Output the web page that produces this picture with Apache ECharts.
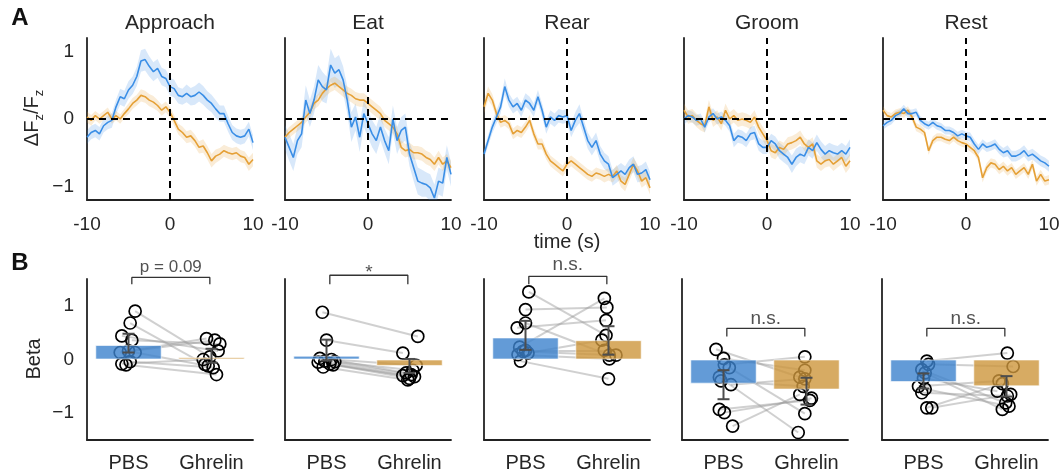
<!DOCTYPE html>
<html><head><meta charset="utf-8">
<script src="https://cdn.jsdelivr.net/npm/echarts@6/dist/echarts.min.js"></script>
<style>html,body{margin:0;padding:0;background:#fff}#c{width:1064px;height:475px}</style>
</head><body><div id="c"></div>
<script>
// ---------------- DATA ----------------
const behaviors = ['Approach', 'Eat', 'Rear', 'Groom', 'Rest'];
const groups = ['PBS', 'Ghrelin'];
const timeSec = [-10,-9.5,-9,-8.5,-8,-7.5,-7,-6.5,-6,-5.5,-5,-4.5,-4,-3.5,-3,-2.5,-2,-1.5,-1,-0.5,0,0.5,1,1.5,2,2.5,3,3.5,4,4.5,5,5.5,6,6.5,7,7.5,8,8.5,9,9.5,10];
const timeTicks = [-10, 0, 10];

// mean dF/F traces (blue = PBS, orange = Ghrelin)
const approachPBS = [-0.27,-0.2,-0.17,-0.22,-0.1,-0.05,-0.02,0.18,0.33,0.3,0.43,0.5,0.63,0.86,0.88,0.78,0.7,0.75,0.63,0.6,0.48,0.45,0.35,0.33,0.38,0.33,0.35,0.4,0.35,0.28,0.23,0.15,0.08,0.08,-0.07,-0.2,-0.25,-0.27,-0.25,-0.15,-0.35];
const approachGhr = [0.03,-0.02,0.05,0,0.05,0.1,0,0.05,0,0.08,0.15,0.23,0.28,0.35,0.33,0.28,0.25,0.2,0.13,0.18,0.1,-0.02,-0.15,-0.2,-0.27,-0.25,-0.32,-0.42,-0.4,-0.5,-0.62,-0.55,-0.52,-0.47,-0.5,-0.52,-0.5,-0.55,-0.57,-0.67,-0.6];
const eatPBS = [-0.27,-0.42,-0.57,-0.32,-0.22,0.28,0.08,0.28,0.58,0.48,0.43,0.8,0.68,0.73,0.58,0.28,-0.12,0.03,-0.27,0.08,-0.07,-0.22,-0.32,-0.12,-0.32,-0.47,0,-0.32,-0.17,-0.12,-0.52,-0.72,-0.92,-0.95,-0.97,-1.02,-1.17,-0.92,-0.95,-0.57,-0.82];
const eatGhr = [-0.27,-0.2,-0.15,-0.1,-0.05,0.03,0.1,0.23,0.28,0.38,0.45,0.5,0.53,0.48,0.43,0.38,0.35,0.3,0.28,0.28,0.23,0.18,0.13,0.08,-0.02,-0.07,-0.12,-0.22,-0.42,-0.47,-0.45,-0.5,-0.5,-0.52,-0.57,-0.6,-0.67,-0.57,-0.67,-0.62,-0.72];
const rearPBS = [-0.52,-0.32,-0.12,0.03,0.18,0.48,0.28,0.18,0.23,0.13,0.28,0.23,0.13,0.33,0.13,-0.12,0.03,-0.02,0.05,0.03,0.05,-0.17,-0.02,0.08,-0.12,-0.32,-0.42,-0.32,-0.52,-0.62,-0.67,-0.87,-0.82,-0.77,-0.82,-0.72,-0.67,-0.82,-0.8,-0.75,-0.9];
const rearGhr = [0.18,0.38,0.28,0.08,-0.05,-0.02,-0.07,-0.22,-0.17,-0.2,-0.12,-0.02,-0.22,-0.37,-0.37,-0.52,-0.62,-0.67,-0.72,-0.77,-0.67,-0.62,-0.67,-0.72,-0.77,-0.82,-0.85,-0.8,-0.82,-0.85,-0.82,-0.85,-0.77,-0.92,-0.97,-0.82,-0.67,-0.77,-0.92,-0.87,-1.02];
const groomPBS = [0,0.05,0.03,-0.02,0,-0.12,0.03,0.08,0,0.03,-0.02,-0.1,-0.32,-0.25,-0.27,-0.32,-0.22,-0.2,-0.37,-0.42,-0.42,-0.32,-0.37,-0.47,-0.52,-0.57,-0.67,-0.57,-0.52,-0.55,-0.42,-0.47,-0.35,-0.45,-0.52,-0.47,-0.5,-0.52,-0.47,-0.52,-0.42];
const groomGhr = [0.13,0.03,0.05,-0.02,-0.07,-0.1,0.18,-0.02,0.03,-0.07,0.13,0,0.05,-0.02,0,-0.02,-0.05,0.03,-0.12,-0.22,-0.32,-0.47,-0.5,-0.42,-0.45,-0.37,-0.35,-0.32,-0.27,-0.37,-0.42,-0.37,-0.62,-0.67,-0.62,-0.6,-0.67,-0.62,-0.57,-0.7,-0.62];
const restPBS = [-0.1,-0.05,-0.02,0.05,0.08,0.15,0.08,0.08,0.1,-0.02,-0.07,-0.1,-0.05,-0.1,-0.12,-0.17,-0.17,-0.2,-0.25,-0.22,-0.25,-0.27,-0.37,-0.45,-0.37,-0.42,-0.4,-0.37,-0.45,-0.5,-0.47,-0.55,-0.55,-0.52,-0.47,-0.55,-0.52,-0.57,-0.62,-0.65,-0.7];
const restGhr = [0.13,0.05,0.03,0.08,0.1,0.08,0.13,0.03,-0.12,-0.15,-0.2,-0.47,-0.32,-0.27,-0.27,-0.3,-0.32,-0.27,-0.32,-0.35,-0.37,-0.42,-0.47,-0.57,-0.87,-0.72,-0.65,-0.67,-0.75,-0.7,-0.77,-0.72,-0.82,-0.77,-0.72,-0.82,-0.67,-0.92,-0.82,-0.92,-0.9];

// SEM of traces
const approachPBSsem = [0.1,0.1,0.1,0.1,0.1,0.1,0.11,0.11,0.12,0.12,0.13,0.13,0.14,0.16,0.16,0.15,0.14,0.14,0.13,0.13,0.13,0.13,0.12,0.12,0.13,0.13,0.14,0.14,0.14,0.13,0.13,0.13,0.12,0.12,0.12,0.11,0.11,0.11,0.11,0.11,0.11];
const approachGhrSem = [0.08,0.08,0.07,0.07,0.07,0.07,0.07,0.07,0.07,0.07,0.08,0.08,0.08,0.09,0.09,0.09,0.09,0.08,0.08,0.08,0.08,0.08,0.08,0.09,0.09,0.09,0.09,0.09,0.1,0.1,0.1,0.1,0.09,0.09,0.09,0.09,0.09,0.09,0.09,0.1,0.1];
const eatPBSsem = [0.18,0.2,0.2,0.2,0.2,0.22,0.2,0.2,0.22,0.22,0.2,0.24,0.22,0.22,0.2,0.2,0.22,0.2,0.22,0.2,0.2,0.2,0.2,0.2,0.18,0.2,0.2,0.2,0.2,0.2,0.18,0.2,0.2,0.2,0.18,0.2,0.2,0.2,0.2,0.18,0.18];
const eatGhrSem = [0.08,0.08,0.08,0.08,0.08,0.08,0.09,0.09,0.09,0.1,0.1,0.1,0.1,0.1,0.1,0.1,0.1,0.1,0.1,0.1,0.1,0.1,0.1,0.1,0.1,0.1,0.1,0.1,0.1,0.1,0.1,0.1,0.1,0.1,0.1,0.1,0.1,0.1,0.1,0.1,0.1];
const rearPBSsem = [0.07,0.08,0.09,0.1,0.1,0.12,0.1,0.1,0.1,0.1,0.1,0.1,0.1,0.1,0.1,0.1,0.1,0.1,0.1,0.1,0.1,0.1,0.12,0.14,0.12,0.12,0.12,0.12,0.12,0.12,0.12,0.12,0.12,0.12,0.12,0.12,0.12,0.12,0.12,0.12,0.12];
const rearGhrSem = [0.1,0.1,0.09,0.08,0.08,0.08,0.08,0.08,0.08,0.08,0.08,0.08,0.08,0.08,0.08,0.08,0.08,0.08,0.08,0.08,0.08,0.08,0.08,0.08,0.08,0.08,0.08,0.08,0.08,0.09,0.09,0.09,0.09,0.09,0.1,0.1,0.1,0.1,0.1,0.1,0.1];
const groomPBSsem = [0.08,0.08,0.08,0.08,0.08,0.08,0.08,0.08,0.08,0.08,0.08,0.09,0.1,0.1,0.1,0.1,0.1,0.1,0.1,0.1,0.1,0.1,0.11,0.12,0.12,0.12,0.13,0.13,0.12,0.12,0.12,0.12,0.12,0.12,0.12,0.12,0.12,0.12,0.12,0.12,0.12];
const groomGhrSem = [0.1,0.1,0.1,0.1,0.1,0.1,0.1,0.1,0.1,0.1,0.1,0.1,0.1,0.1,0.1,0.1,0.1,0.1,0.1,0.1,0.1,0.1,0.1,0.1,0.1,0.1,0.1,0.1,0.1,0.1,0.1,0.1,0.1,0.1,0.1,0.1,0.1,0.1,0.1,0.1,0.1];
const restPBSsem = [0.06,0.06,0.06,0.06,0.06,0.06,0.06,0.06,0.06,0.06,0.06,0.06,0.06,0.06,0.06,0.06,0.06,0.06,0.06,0.06,0.06,0.07,0.07,0.07,0.07,0.07,0.07,0.07,0.07,0.07,0.08,0.08,0.08,0.08,0.08,0.08,0.08,0.08,0.08,0.08,0.08];
const restGhrSem = [0.06,0.06,0.06,0.06,0.06,0.06,0.06,0.06,0.06,0.06,0.06,0.06,0.06,0.06,0.06,0.06,0.06,0.06,0.06,0.06,0.06,0.06,0.06,0.06,0.07,0.07,0.07,0.07,0.07,0.07,0.07,0.07,0.07,0.07,0.07,0.07,0.07,0.07,0.07,0.07,0.07];

// Beta per animal (paired: index k of PBS pairs with index k of Ghrelin)
const betaPBS_Approach = [0.9,0.68,0.44,0.36,0.16,0.13,0.13,-0.04,-0.08,-0.1];
const betaGhr_Approach = [0.05,-0.09,0.16,0.29,0.39,0.36,-0.12,-0.15,0.0,-0.28];
const betaPBS_Eat = [0.88,0.36,0.02,0.0,-0.03,-0.05,-0.08,-0.1,-0.14,-0.04];
const betaGhr_Eat = [0.43,0.12,-0.11,-0.25,-0.28,-0.3,-0.32,-0.35,-0.38,-0.2];
const betaPBS_Rear = [1.26,0.93,0.68,0.59,0.23,0.17,0.12,0.09,0.15,-0.03];
const betaGhr_Rear = [0.45,0.97,0.08,0.73,1.14,0.17,0.36,0.01,0.08,-0.36];
const betaPBS_Groom = [0.19,0.02,-0.1,-0.15,-0.33,-0.47,-0.4,-0.93,-0.99,-1.24];
const betaGhr_Groom = [-0.33,-0.2,0.05,-1.01,-1.36,-0.36,-0.5,-0.76,-0.72,-0.65];
const betaPBS_Rest = [-0.03,-0.09,-0.19,-0.25,-0.35,-0.5,-0.55,-0.62,-0.9,-0.9];
const betaGhr_Rest = [0.12,-0.13,-0.81,-0.93,-0.59,-0.4,-0.87,-0.68,-0.45,-0.65];

// horizontal jitter of each animal's dot (category units)
const jitPBS_Approach = [0.08,0.02,-0.08,0.04,0,-0.1,0.08,0.02,-0.08,-0.03];
const jitGhr_Approach = [-0.02,-0.08,0.08,0.1,-0.06,0.04,-0.04,0.02,-0.1,0.06];
const jitPBS_Eat = [-0.05,0,-0.08,0.06,-0.02,-0.1,0.04,0.08,-0.04,0.1];
const jitGhr_Eat = [0.1,-0.08,0.08,-0.04,0.02,-0.08,0.06,0,-0.02,0.04];
const jitPBS_Rear = [0.04,0,0,-0.1,-0.07,0,0.03,-0.09,-0.03,-0.06];
const jitGhr_Rear = [-0.03,-0.02,0.01,-0.03,-0.05,-0.05,-0.08,0.01,0.09,0];
const jitPBS_Groom = [-0.09,0,0.01,0.07,-0.05,0.09,-0.03,-0.05,0.01,0.11];
const jitGhr_Groom = [-0.08,-0.02,-0.02,-0.02,-0.1,-0.02,-0.04,0.04,0.06,-0.08];
const jitPBS_Rest = [0.04,0.06,-0.02,0.02,0,-0.06,0.02,-0.02,0.04,0.1];
const jitGhr_Rest = [0.01,0.08,-0.01,-0.05,-0.11,-0.09,0.03,0.01,-0.05,0.05];

// group bars and error bars
const barPBS = [0.27, 0.07, 0.41, -0.45, -0.42];
const barGhr = [0.04, -0.12, 0.36, -0.56, -0.5];
const errPBSLow = [0.13, -0.02, 0.18, -0.74, -0.54];
const errPBSHigh = [0.48, 0.37, 0.72, -0.2, -0.26];
const errGhrLow = [-0.06, -0.25, 0.09, -0.84, -0.69];
const errGhrHigh = [0.2, 0.01, 0.62, -0.34, -0.31];

// significance annotations
const sigText = ['p = 0.09', '*', 'n.s.', 'n.s.', 'n.s.'];
const sigBarY = [1.53, 1.57, 1.55, 0.58, 0.58];
const sigTipY = [1.4, 1.4, 1.4, 0.43, 0.43];
const sigTextY = [1.72, 1.62, 1.77, 0.75, 0.75];
const betaTicks = [-1, 0, 1];
const dffTicks = [-1, 0, 1];

// ---------------- CHART ----------------
const traces = [
  [approachPBS, approachPBSsem, approachGhr, approachGhrSem],
  [eatPBS, eatPBSsem, eatGhr, eatGhrSem],
  [rearPBS, rearPBSsem, rearGhr, rearGhrSem],
  [groomPBS, groomPBSsem, groomGhr, groomGhrSem],
  [restPBS, restPBSsem, restGhr, restGhrSem]
];
const betas = [
  [betaPBS_Approach, betaGhr_Approach, jitPBS_Approach, jitGhr_Approach],
  [betaPBS_Eat, betaGhr_Eat, jitPBS_Eat, jitGhr_Eat],
  [betaPBS_Rear, betaGhr_Rear, jitPBS_Rear, jitGhr_Rear],
  [betaPBS_Groom, betaGhr_Groom, jitPBS_Groom, jitGhr_Groom],
  [betaPBS_Rest, betaGhr_Rest, jitPBS_Rest, jitGhr_Rest]
];

const FONT = '"Liberation Sans", Arial, Helvetica, sans-serif';
const TXT = '#262626';
const BLUE = '#3a8ee6', ORANGE = '#e5a036';
const BLUE_BAND = 'rgba(58,142,230,0.2)', ORANGE_BAND = 'rgba(229,160,54,0.2)';
const topLeft = [87, 285, 484, 684, 883];
const botLeft = [87, 285, 484, 682, 882];
const PW = 166;

const chart = echarts.init(document.getElementById('c'), null, {renderer: 'canvas'});
const grid = [], xAxis = [], yAxis = [], series = [], graphic = [];
const axisLine = {show: true, onZero: false, lineStyle: {color: '#222', width: 1.8}};

function intLabel(ticks) {
  return function (v) {
    for (const t of ticks) if (Math.abs(v - t) < 1e-6) return t < 0 ? '\u2212' + Math.abs(t) : String(t);
    return '';
  };
}

for (let i = 0; i < 5; i++) {
  grid.push({left: topLeft[i], top: 38, width: PW, height: 162});
  xAxis.push({type: 'value', gridIndex: i, min: -10, max: 10, interval: 10, position: 'bottom',
    axisLine, axisTick: {show: false}, splitLine: {show: false},
    axisLabel: {fontSize: 19, color: TXT, fontFamily: FONT, margin: 15,
      formatter: v => timeTicks.includes(v) ? String(v) : ''}});
  yAxis.push({type: 'value', gridIndex: i, min: -1.2, max: 1.2, interval: 0.2, position: 'left',
    axisLine, axisTick: {show: false}, splitLine: {show: false},
    axisLabel: {show: i === 0, fontSize: 19, color: TXT, fontFamily: FONT, margin: 13, formatter: intLabel(dffTicks)}});
}
for (let i = 0; i < 5; i++) {
  grid.push({left: botLeft[i], top: 279, width: PW, height: 161});
}
for (let i = 0; i < 5; i++) {
  xAxis.push({type: 'category', gridIndex: 5 + i, data: groups, boundaryGap: true, position: 'bottom',
    axisLine, axisTick: {show: false}, splitLine: {show: false},
    axisLabel: {interval: 0, fontSize: 20, color: TXT, fontFamily: FONT, margin: 13}});
}
for (let i = 0; i < 5; i++) {
  xAxis.push({type: 'value', gridIndex: 5 + i, min: -0.5, max: 1.5, show: false, position: 'bottom',
    axisLine: {show: false, onZero: false}});
}
for (let i = 0; i < 5; i++) {
  yAxis.push({type: 'value', gridIndex: 5 + i, min: -1.5, max: 1.5, interval: 0.5, position: 'left',
    axisLine, axisTick: {show: false}, splitLine: {show: false},
    axisLabel: {show: i === 0, fontSize: 19, color: TXT, fontFamily: FONT, margin: 13, formatter: intLabel(betaTicks)}});
}

function band(ai, m, s, color) {
  return {type: 'custom', xAxisIndex: ai, yAxisIndex: ai, clip: true, silent: true, z: 1,
    data: timeSec.map((t, k) => [t, m[k], s[k]]), encode: {x: 0, y: 1},
    renderItem: (params, api) => {
      if (params.dataIndex !== 0) return null;
      const up = timeSec.map((t, k) => api.coord([t, m[k] + s[k]]));
      const lo = timeSec.map((t, k) => api.coord([t, m[k] - s[k]])).reverse();
      return {type: 'polygon', shape: {points: up.concat(lo)}, style: {fill: color}};
    }};
}

for (let i = 0; i < 5; i++) {
  const [mp, sp, mg, sg] = traces[i];
  series.push(band(i, mp, sp, BLUE_BAND));
  series.push(band(i, mg, sg, ORANGE_BAND));
  series.push({type: 'line', xAxisIndex: i, yAxisIndex: i, data: timeSec.map((t, k) => [t, mg[k]]),
    symbol: 'none', lineStyle: {color: ORANGE, width: 1.6}, z: 2, silent: true});
  series.push({type: 'line', xAxisIndex: i, yAxisIndex: i, data: timeSec.map((t, k) => [t, mp[k]]),
    symbol: 'none', lineStyle: {color: BLUE, width: 1.6}, z: 3, silent: true,
    markLine: {silent: true, symbol: ['none', 'none'], label: {show: false},
      lineStyle: {color: '#000', width: 2, type: [7, 5]},
      data: [{xAxis: 0}, {yAxis: 0}]}});
}

for (let i = 0; i < 5; i++) {
  const [bp, bg, jp, jg] = betas[i];
  const xi = 10 + i, yi = 5 + i;
  series.push({type: 'lines', coordinateSystem: 'cartesian2d', xAxisIndex: xi, yAxisIndex: yi, z: 1, silent: true,
    lineStyle: {color: 'rgba(150,150,150,0.45)', width: 2, opacity: 1},
    data: bp.map((v, k) => ({coords: [[jp[k], v], [1 + jg[k], bg[k]]]}))});
  series.push({type: 'scatter', xAxisIndex: xi, yAxisIndex: yi, z: 2, silent: true, symbol: 'circle', symbolSize: 12,
    itemStyle: {color: 'rgba(0,0,0,0)', borderColor: '#000', borderWidth: 1.7, opacity: 1},
    data: bp.map((v, k) => [jp[k], v]).concat(bg.map((v, k) => [1 + jg[k], v]))});
  series.push({type: 'bar', xAxisIndex: 5 + i, yAxisIndex: yi, z: 3, silent: true, barWidth: '80%',
    data: [{value: barPBS[i], itemStyle: {color: 'rgba(60,130,205,0.8)', borderColor: 'rgba(255,255,255,0.6)', borderWidth: 1}},
           {value: barGhr[i], itemStyle: {color: 'rgba(205,150,60,0.8)', borderColor: 'rgba(255,255,255,0.6)', borderWidth: 1}}]});
  series.push({type: 'custom', xAxisIndex: xi, yAxisIndex: yi, z: 4, silent: true,
    data: [[0, errPBSLow[i], errPBSHigh[i]], [1, errGhrLow[i], errGhrHigh[i]]],
    encode: {x: 0, y: [1, 2]},
    renderItem: (params, api) => {
      const x = api.value(0);
      const p1 = api.coord([x, api.value(1)]), p2 = api.coord([x, api.value(2)]);
      const w = 6, st = {stroke: '#4d4d4d', lineWidth: 2};
      return {type: 'group', children: [
        {type: 'line', shape: {x1: p1[0], y1: p1[1], x2: p2[0], y2: p2[1]}, style: st},
        {type: 'line', shape: {x1: p1[0] - w, y1: p1[1], x2: p1[0] + w, y2: p1[1]}, style: st},
        {type: 'line', shape: {x1: p2[0] - w, y1: p2[1], x2: p2[0] + w, y2: p2[1]}, style: st}]};
    }});
  series.push({type: 'line', xAxisIndex: xi, yAxisIndex: yi, z: 5, silent: true, clip: false, symbol: 'none',
    lineStyle: {color: '#333', width: 1.3},
    data: [[0.04, sigTipY[i]], [0.04, sigBarY[i]], [0.98, sigBarY[i]], [0.98, sigTipY[i]]]});
  series.push({type: 'scatter', xAxisIndex: xi, yAxisIndex: yi, z: 5, silent: true, clip: false, symbolSize: 1,
    itemStyle: {color: 'rgba(0,0,0,0)'},
    label: {show: true, position: 'inside', formatter: sigText[i], color: TXT, fontFamily: FONT,
      fontSize: i === 0 ? 17 : 19},
    data: [[0.51, sigTextY[i]]]});
}

// titles and labels
for (let i = 0; i < 5; i++) {
  graphic.push({type: 'text', x: topLeft[i] + PW / 2, y: 23,
    style: {text: behaviors[i], font: '21px ' + FONT, fill: TXT, textAlign: 'center', textVerticalAlign: 'middle'}});
}
graphic.push({type: 'text', x: 20, y: 18, style: {text: 'A', font: 'bold 24px ' + FONT, fill: '#111', textAlign: 'center', textVerticalAlign: 'middle'}});
graphic.push({type: 'text', x: 20, y: 263, style: {text: 'B', font: 'bold 24px ' + FONT, fill: '#111', textAlign: 'center', textVerticalAlign: 'middle'}});
graphic.push({type: 'text', x: topLeft[2] + PW / 2, y: 242,
  style: {text: 'time (s)', font: '20px ' + FONT, fill: TXT, textAlign: 'center', textVerticalAlign: 'middle'}});
graphic.push({type: 'text', x: 34, y: 359, rotation: Math.PI / 2,
  style: {text: 'Beta', font: '20px ' + FONT, fill: TXT, textAlign: 'center', textVerticalAlign: 'middle'}});
graphic.push({type: 'text', x: 34, y: 118, rotation: Math.PI / 2,
  style: {text: '{a|\u0394F}{s|z}{a|/F}{s|z}', fill: TXT, textAlign: 'center', textVerticalAlign: 'middle',
    rich: {a: {fontSize: 20, fontFamily: FONT, fill: TXT, lineHeight: 24, verticalAlign: 'top'},
           s: {fontSize: 13, fontFamily: FONT, fill: TXT, lineHeight: 14, verticalAlign: 'top', padding: [11, 0, 0, 0]}}}});

chart.setOption({animation: false, grid, xAxis, yAxis, series, graphic});
</script>
</body></html>
